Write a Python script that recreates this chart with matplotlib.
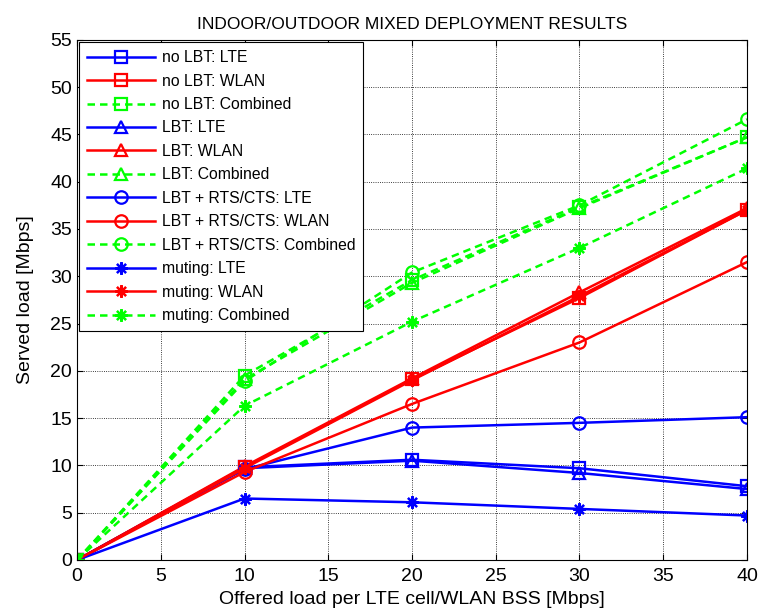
import matplotlib
matplotlib.use('Agg')
import matplotlib.pyplot as plt

plt.rcParams['font.family'] = ['Liberation Sans', 'DejaVu Sans']

# offered load per LTE cell / WLAN BSS [Mbps]
offered = [0, 10, 20, 30, 40]

# served load [Mbps]
nolbt_lte = [0, 9.8, 10.6, 9.7, 7.8]
nolbt_wlan = [0, 9.8, 19.1, 27.7, 37.0]
nolbt_comb = [0, 19.5, 29.6, 37.3, 44.7]
lbt_lte = [0, 9.7, 10.5, 9.2, 7.5]
lbt_wlan = [0, 9.9, 19.2, 28.3, 37.2]
lbt_comb = [0, 19.1, 29.3, 37.2, 44.7]
rts_lte = [0, 9.6, 14.0, 14.5, 15.1]
rts_wlan = [0, 9.3, 16.5, 23.0, 31.5]
rts_comb = [0, 18.9, 30.4, 37.5, 46.6]
mut_lte = [0, 6.5, 6.1, 5.4, 4.7]
mut_wlan = [0, 9.7, 19.0, 27.9, 37.0]
mut_comb = [0, 16.3, 25.2, 33.0, 41.4]

series = [
    ('no LBT: LTE', nolbt_lte, 's', 'lte'),
    ('no LBT: WLAN', nolbt_wlan, 's', 'wlan'),
    ('no LBT: Combined', nolbt_comb, 's', 'comb'),
    ('LBT: LTE', lbt_lte, '^', 'lte'),
    ('LBT: WLAN', lbt_wlan, '^', 'wlan'),
    ('LBT: Combined', lbt_comb, '^', 'comb'),
    ('LBT + RTS/CTS: LTE', rts_lte, 'o', 'lte'),
    ('LBT + RTS/CTS: WLAN', rts_wlan, 'o', 'wlan'),
    ('LBT + RTS/CTS: Combined', rts_comb, 'o', 'comb'),
    ('muting: LTE', mut_lte, (8, 2, 0), 'lte'),
    ('muting: WLAN', mut_wlan, (8, 2, 0), 'wlan'),
    ('muting: Combined', mut_comb, (8, 2, 0), 'comb'),
]

styles = {
    'lte': dict(color='#0000ff', ls='-'),
    'wlan': dict(color='#ff0000', ls='-'),
    'comb': dict(color='#00ff00', ls='--'),
}

fig = plt.figure(figsize=(7.63, 6.13), dpi=100)
ax = fig.add_axes([0.101, 0.0865, 0.878, 0.8485])

for label, vals, mk, kind in series:
    st = styles[kind]
    ax.plot(offered, vals, color=st['color'], linestyle=st['ls'], linewidth=1.8,
            marker=mk, markersize=9, markerfacecolor='none',
            markeredgecolor=st['color'], markeredgewidth=1.6, label=label,
            dashes=(3, 2) if kind == 'comb' else (None, None))

ax.set_xlim(0, 40)
ax.set_ylim(0, 55)
ax.set_xticks(range(0, 41, 5))
ax.set_yticks(range(0, 56, 5))
ax.grid(True, color='black', linestyle=':', linewidth=0.6)
ax.tick_params(direction='in', labelsize=14, top=True, right=True, length=4)
ax.tick_params(axis='x', pad=6)
for s in ax.spines.values():
    s.set_linewidth(0.8)

ax.set_title('INDOOR/OUTDOOR MIXED DEPLOYMENT RESULTS', fontsize=12.5, pad=8)
ax.set_xlabel('Offered load per LTE cell/WLAN BSS [Mbps]', fontsize=14, labelpad=4)
ax.set_ylabel('Served load [Mbps]', fontsize=14, labelpad=12)

leg = ax.legend(loc='upper left', fontsize=11.3, frameon=True, fancybox=False,
                edgecolor='black', framealpha=1, borderaxespad=0.15,
                labelspacing=0.54, handlelength=4.3, handletextpad=0.45,
                borderpad=0.5)
leg.get_frame().set_linewidth(0.8)

fig.savefig('out.png', dpi=100)
